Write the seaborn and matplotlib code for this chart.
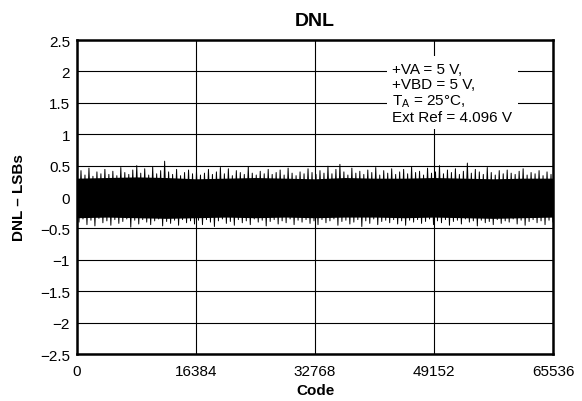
import numpy as np
import pandas as pd
import matplotlib
matplotlib.use("Agg")
import matplotlib.pyplot as plt
import seaborn as sns

# ---- data (peak DNL per code slice, LSBs) ----
dnl_upper = [
    0.38, 0.42, 0.35, 0.46, 0.33, 0.40, 0.37, 0.44, 0.36, 0.41,
    0.34, 0.47, 0.39, 0.36, 0.43, 0.50, 0.38, 0.45, 0.35, 0.48,
    0.37, 0.42, 0.57, 0.40, 0.36, 0.44, 0.34, 0.39, 0.43, 0.37,
    0.41, 0.35, 0.38, 0.44, 0.36, 0.40, 0.47, 0.37, 0.45, 0.34,
    0.42, 0.39, 0.36, 0.48, 0.38, 0.35, 0.41, 0.37, 0.44, 0.36,
    0.39, 0.43, 0.35, 0.46, 0.38, 0.34, 0.40, 0.37, 0.45, 0.39,
    0.36, 0.42, 0.38, 0.49, 0.37, 0.44, 0.52, 0.40, 0.35, 0.46,
    0.38, 0.41, 0.36, 0.43, 0.39, 0.47, 0.35, 0.42, 0.38, 0.45,
    0.36, 0.40, 0.44, 0.37, 0.48, 0.39, 0.41, 0.35, 0.46, 0.38,
    0.40, 0.50, 0.37, 0.43, 0.39, 0.45, 0.36, 0.41, 0.54, 0.38,
    0.44, 0.40, 0.36, 0.47, 0.39, 0.35, 0.42, 0.37, 0.43, 0.38,
    0.36, 0.41, 0.45, 0.35, 0.39, 0.37, 0.42, 0.34, 0.40, 0.36,
]
dnl_lower = [
    -0.40, -0.35, -0.44, -0.37, -0.46, -0.34, -0.41, -0.38, -0.45, -0.36,
    -0.42, -0.39, -0.35, -0.48, -0.37, -0.43, -0.36, -0.40, -0.44, -0.38,
    -0.35, -0.46, -0.39, -0.42, -0.37, -0.45, -0.36, -0.41, -0.38, -0.43,
    -0.37, -0.44, -0.36, -0.40, -0.47, -0.38, -0.35, -0.42, -0.39, -0.45,
    -0.36, -0.41, -0.38, -0.44, -0.35, -0.40, -0.37, -0.46, -0.39, -0.36,
    -0.43, -0.38, -0.41, -0.35, -0.44, -0.37, -0.40, -0.36, -0.42, -0.38,
    -0.44, -0.36, -0.41, -0.38, -0.35, -0.45, -0.39, -0.37, -0.43, -0.40,
    -0.36, -0.47, -0.38, -0.42, -0.35, -0.44, -0.39, -0.37, -0.41, -0.36,
    -0.43, -0.38, -0.45, -0.37, -0.40, -0.36, -0.42, -0.39, -0.35, -0.44,
    -0.38, -0.41, -0.36, -0.45, -0.39, -0.37, -0.43, -0.35, -0.40, -0.38,
    -0.46, -0.37, -0.41, -0.39, -0.44, -0.36, -0.42, -0.38, -0.40, -0.35,
    -0.43, -0.37, -0.45, -0.39, -0.36, -0.41, -0.38, -0.44, -0.37, -0.40,
]
# dense core of the DNL band (typical edge per 1/16 of the code range)
core_upper = [0.30, 0.31, 0.32, 0.31, 0.29, 0.30, 0.31, 0.30,
              0.29, 0.31, 0.30, 0.30, 0.31, 0.30, 0.29, 0.30, 0.30]
core_lower = [-0.33, -0.32, -0.33, -0.34, -0.33, -0.32, -0.33, -0.32,
              -0.33, -0.32, -0.32, -0.33, -0.32, -0.33, -0.34, -0.33, -0.32]
code_ticks = [0, 16384, 32768, 49152, 65536]
y_ticks = [2.5, 2, 1.5, 1, 0.5, 0, -0.5, -1, -1.5, -2, -2.5]
y_tick_labels = ["2.5", "2", "1.5", "1", "0.5", "0", "\u22120.5", "\u22121",
                 "\u22121.5", "\u22122", "\u22122.5"]
title = "DNL"
x_label = "Code"
y_label = "DNL \u2013 LSBs"
note = "+VA = 5 V,\n+VBD = 5 V,\nT$_\\mathrm{A}$ = 25\u00b0C,\nExt Ref = 4.096 V"

# ---- build the trace: each code slice swings from its low to its high peak ----
n = len(dnl_upper)
codes = np.linspace(0, 65535, 2 * n)
vals = []
for u, l in zip(dnl_upper, dnl_lower):
    vals.extend([u, l])
df = pd.DataFrame({"code": codes, "dnl": vals})
core_codes = np.linspace(0, 65536, len(core_upper))

sns.set_theme(style="white")
plt.rcParams["font.family"] = ["Liberation Sans", "DejaVu Sans"]
plt.rcParams["mathtext.fontset"] = "custom"
plt.rcParams["mathtext.rm"] = "Liberation Sans"
plt.rcParams["mathtext.it"] = "Liberation Sans:italic"
plt.rcParams["text.color"] = "black"
plt.rcParams["axes.labelcolor"] = "black"
plt.rcParams["xtick.color"] = "black"
plt.rcParams["ytick.color"] = "black"

fig = plt.figure(figsize=(5.82, 4.02), dpi=100)
ax = fig.add_axes([0.1323, 0.1169, 0.8179, 0.7811])

ax.fill_between(core_codes, core_lower, core_upper, color="black",
                linewidth=0, zorder=3)
sns.lineplot(data=df, x="code", y="dnl", sort=False, estimator=None,
             color="black", linewidth=0.7, ax=ax, zorder=3)

ax.set_xlim(0, 65536)
ax.set_ylim(-2.5, 2.5)
ax.set_xticks(code_ticks)
ax.set_xticklabels([str(c) for c in code_ticks], fontsize=11)
ax.set_yticks(y_ticks)
ax.set_yticklabels(y_tick_labels, fontsize=11)
ax.tick_params(axis="x", length=0, pad=7, colors="black")
ax.tick_params(axis="y", length=0, pad=5, colors="black")
ax.grid(True, color="black", linewidth=0.8)
ax.set_axisbelow(True)
for s in ax.spines.values():
    s.set_color("black")
    s.set_linewidth(1.8)

ax.set_title(title, fontsize=14, fontweight="bold", pad=11, color="black")
ax.set_xlabel(x_label, fontsize=11, fontweight="bold", labelpad=4)
ax.set_ylabel(y_label, fontsize=11, fontweight="bold", labelpad=10)

ax.text(0.662, 0.93, note, transform=ax.transAxes, fontsize=11, va="top",
        ha="left", linespacing=1.1, zorder=5,
        bbox=dict(facecolor="white", edgecolor="none", pad=4))

fig.savefig("out.png", dpi=100)
